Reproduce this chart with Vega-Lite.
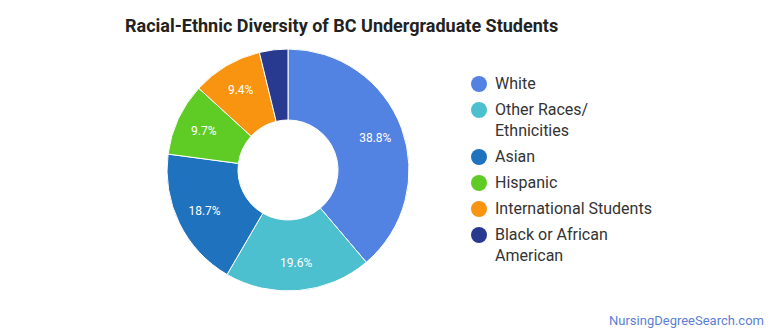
{
  "$schema": "https://vega.github.io/schema/vega-lite/v6.json",
  "autosize": "none",
  "width": 576,
  "height": 340,
  "padding": {"left": 0, "top": 0, "right": 194, "bottom": 0},
  "background": "white",
  "config": {"view": {"stroke": null}, "font": "Roboto", "style": {"guide-label": {"lineHeight": 21}}},
  "title": {
    "text": "Racial-Ethnic Diversity of BC Undergraduate Students",
    "anchor": "start",
    "frame": "bounds",
    "orient": "top",
    "dx": 125,
    "dy": 40,
    "font": "Roboto",
    "fontSize": 18,
    "fontWeight": "bold",
    "color": "#222222"
  },
  "layer": [
    {
      "data": {
        "values": [
          {"group": "White", "pct": 38.8, "ord": 1},
          {"group": "Other Races/Ethnicities", "pct": 19.6, "ord": 2},
          {"group": "Asian", "pct": 18.7, "ord": 3},
          {"group": "Hispanic", "pct": 9.7, "ord": 4},
          {"group": "International Students", "pct": 9.4, "ord": 5},
          {"group": "Black or African American", "pct": 3.8, "ord": 6}
        ]
      },
      "encoding": {
        "theta": {"field": "pct", "type": "quantitative", "stack": true},
        "order": {"field": "ord", "type": "quantitative"}
      },
      "layer": [
        {
          "mark": {"type": "arc", "outerRadius": 121, "innerRadius": 50, "stroke": "white", "strokeWidth": 1},
          "encoding": {
            "color": {
              "field": "group",
              "type": "nominal",
              "sort": ["White", "Other Races/Ethnicities", "Asian", "Hispanic", "International Students", "Black or African American"],
              "scale": {
                "domain": ["White", "Other Races/Ethnicities", "Asian", "Hispanic", "International Students", "Black or African American"],
                "range": ["#5283e2", "#4dc0cf", "#1f72bd", "#5fcc26", "#f89410", "#283a8f"]
              },
              "legend": {
                "title": null,
                "orient": "none",
                "legendX": 471,
                "legendY": 76,
                "symbolType": "circle",
                "symbolSize": 256,
                "symbolStrokeWidth": 0,
                "labelFont": "Roboto",
                "labelFontSize": 16,
                "labelColor": "#333333",
                "labelOffset": 8,
                "rowPadding": 10,
                "labelLimit": 250,
                "labelExpr": "datum.label == 'Other Races/Ethnicities' ? ['Other Races/', 'Ethnicities'] : datum.label == 'Black or African American' ? ['Black or African', 'American'] : datum.label"
              }
            }
          }
        },
        {
          "transform": [
            {"filter": "datum.pct > 5"},
            {"calculate": "format(datum.pct, '.1f') + '%'", "as": "label"}
          ],
          "mark": {"type": "text", "radius": 93, "font": "Roboto", "fontSize": 12, "fill": "white"},
          "encoding": {
            "text": {"field": "label", "type": "nominal"},
            "detail": {"field": "group"}
          }
        }
      ]
    },
    {
      "data": {"values": [{"credit": "NursingDegreeSearch.com"}]},
      "mark": {"type": "text", "align": "right", "baseline": "alphabetic", "x": {"expr": "width + 188"}, "y": {"expr": "height - 15"}, "font": "Roboto", "fontSize": 13, "fill": "#5b7fd4"},
      "encoding": {"text": {"field": "credit", "type": "nominal"}}
    }
  ]
}
